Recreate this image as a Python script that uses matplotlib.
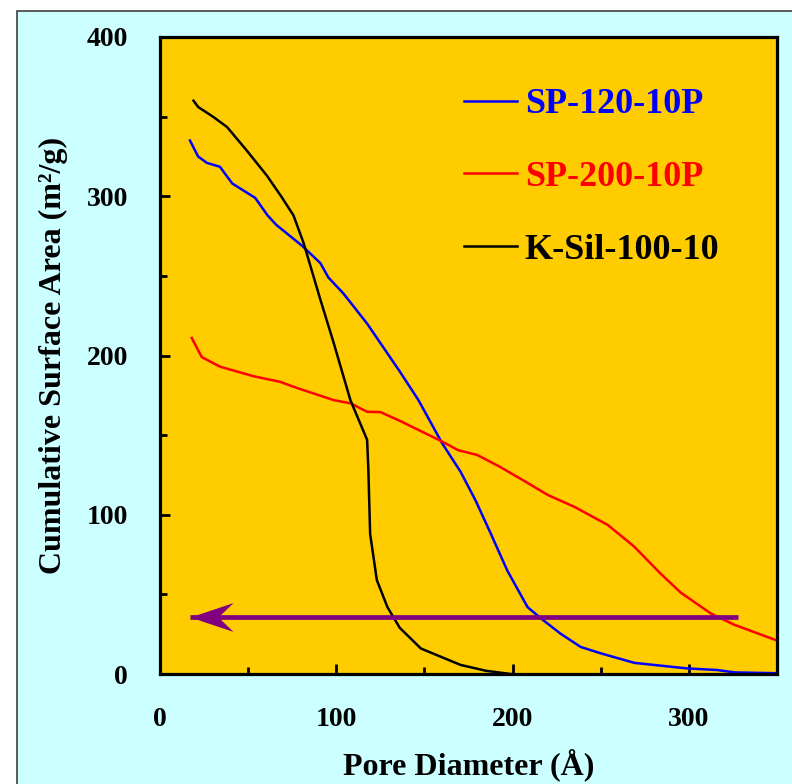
import numpy as np
import matplotlib.pyplot as plt
from matplotlib.path import Path
from matplotlib.patches import Rectangle

plt.rcParams['font.family'] = ['Liberation Serif', 'DejaVu Serif']
plt.rcParams['font.weight'] = 'bold'

# cumulative surface area vs pore diameter
sp120_x = [17, 21.6, 26.5, 34, 41, 54, 61, 66, 80.5, 91, 95.5, 104, 117.5, 136, 146.6,
           160, 170.5, 179, 187.5, 197, 208.5, 216, 227, 238.6, 250, 269, 299, 316, 326, 350]
sp120_y = [335, 325, 321, 318.5, 308, 299, 288, 282, 269, 258, 249, 239, 220, 190, 172,
           145, 127, 109, 88.5, 65, 42, 35, 25.5, 17, 13, 7, 3.5, 2.5, 1, 0.5]

sp200_x = [18, 23.7, 34, 53, 68, 78, 98.5, 108, 117.6, 125, 136, 160, 169, 180, 193,
           208.5, 220, 235, 254, 269, 284, 295.5, 312.5, 325.6, 350]
sp200_y = [211, 199, 193, 187, 183.5, 179.5, 172, 170, 164.6, 164.5, 159, 146, 140.6, 137.5, 130,
           120, 112.4, 105, 93.6, 80, 63, 51, 38, 31, 21]

ksil_x = [19, 21.7, 30, 38, 49, 60.6, 69, 75.7, 81.5, 91, 98.5, 108, 117.5, 118.2, 119.2,
          123, 129, 136, 148, 170.5, 185, 199]
ksil_y = [360, 356, 350, 343.5, 329, 313, 299.5, 288, 270.5, 235, 208, 172, 147, 128, 88,
          59, 42, 29, 16, 5.7, 2, 0]

arrow_y = 36
arrow_from = 328
arrow_to = 17

fig = plt.figure(figsize=(7.92, 7.84), dpi=100)
fig.patch.set_facecolor('white')
fig.patches.append(Rectangle((17 / 792, -0.1), 1.1, 1.1 - 11 / 784, transform=fig.transFigure,
                             facecolor='#CCFFFF', edgecolor='#404040', lw=1.2, zorder=-10))

ax = fig.add_axes([160 / 792, 1 - 674 / 784, 617 / 792, 637 / 784])
ax.set_facecolor('#FFCC00')

ax.plot(sp120_x, sp120_y, color='#0000FF', lw=1.8, label='SP-120-10P')
ax.plot(sp200_x, sp200_y, color='#FF0000', lw=1.8, label='SP-200-10P')
ax.plot(ksil_x, ksil_y, color='black', lw=1.8, label='K-Sil-100-10')

# purple arrow with a notched head
ax.plot([arrow_to, arrow_from], [arrow_y, arrow_y], color='#800080', lw=3.4,
        solid_capstyle='butt', zorder=5)
head = Path([(0, 0), (1, 0.335), (0.65, 0), (1, -0.335), (0, 0)],
            [Path.MOVETO, Path.LINETO, Path.LINETO, Path.LINETO, Path.CLOSEPOLY])
ax.plot([arrow_to], [arrow_y], marker=head, markersize=62, color='#800080',
        markeredgewidth=0, zorder=6)

ax.set_xlim(0, 350)
ax.set_ylim(0, 400)
ax.set_xticks([0, 100, 200, 300])
ax.set_xticks([50, 150, 250], minor=True)
ax.set_yticks([0, 100, 200, 300, 400])
ax.set_yticks([50, 150, 250, 350], minor=True)
ax.tick_params(which='both', direction='in', width=2, top=False, right=False,
               labelsize=20)
ax.tick_params(which='major', length=7)
ax.tick_params(which='minor', length=5)
ax.tick_params(axis='x', which='major', pad=24)
ax.tick_params(axis='y', which='major', pad=23)
for s in ax.spines.values():
    s.set_linewidth(2.3)

ax.set_xlabel('Pore Diameter (Å)', fontsize=23, fontweight='bold', va='center')
ax.xaxis.set_label_coords(0.5, -0.143)
ax.set_ylabel('Cumulative Surface Area (m²/g)', fontsize=23, fontweight='bold', va='center')
ax.yaxis.set_label_coords(-0.172, 0.5)

ax.legend(loc='upper left', bbox_to_anchor=(0.4927, 0.92), frameon=False,
          prop={'family': 'Liberation Serif', 'weight': 'bold', 'size': 26},
          labelcolor='linecolor', handlelength=1.46, handletextpad=0.22,
          labelspacing=1.09, borderpad=0, borderaxespad=0)

fig.savefig('out.png', dpi=100, facecolor=fig.get_facecolor())
